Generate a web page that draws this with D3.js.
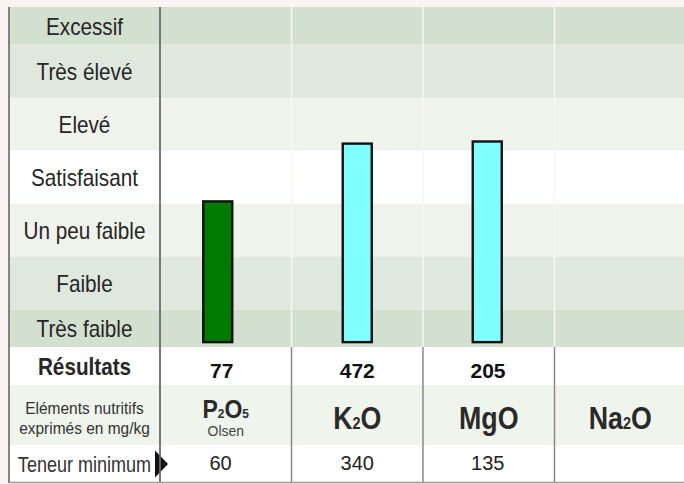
<!DOCTYPE html>
<html><head><meta charset="utf-8">
<script src="https://cdn.jsdelivr.net/npm/d3@7"></script>
<style>html,body{margin:0;padding:0;background:#f9f4f1;} svg{display:block;font-family:"Liberation Sans",Arial,sans-serif;}</style>
</head><body><svg id="chart" width="684" height="484"></svg>
<script>
// ---- data ----
const levels = ["Très faible","Faible","Un peu faible","Satisfaisant","Elevé","Très élevé","Excessif"];
const elements = ["P2O5","K2O","MgO","Na2O"];
const barLevels = [3.04, 4.13, 4.17, null];
const barBase = 0.13;
const results = ["77","472","205",""];
const minimums = ["60","340","135",""];
const notes = ["Olsen","","",""];
const rowLabels = ["Résultats","Eléments nutritifs|exprimés en mg/kg","Teneur minimum"];

// ---- styles ----
const bandColors = ["#d3dfcf","#dfe8dd","#f0f3ec","#ffffff","#f0f3ec","#dfe8dd","#d3dfcf"];
const barColors = ["#007a00","#80ffff","#80ffff","#80ffff"];
const textColor = "#262626";

// ---- layout ----
const L = 9, LR = 160, R = 686, T = 7, CB = 347;
const rowH = [38, 60, 38];
const innerH = 53, edgeH = (CB - T - 5 * innerH) / 2;
const colNudge = [-8, 0, -1.5, 0];   // small horizontal nudge of bars within their columns
const bounds = [CB];
for (let i = 0; i < 7; i++) bounds.push(bounds[i] - (i === 0 || i === 6 ? edgeH : innerH));

const svg = d3.select("#chart");
const y = d3.scaleLinear().domain(d3.range(8)).range(bounds);
const x = d3.scaleBand().domain(elements).range([LR, R]);
const bw = x.bandwidth();

function txt(g, px, py, str, size, sx, weight, color) {
  return g.append("text")
    .attr("transform", `translate(${px},${py}) scale(${sx},1)`)
    .attr("text-anchor", "middle")
    .attr("font-size", size)
    .attr("font-weight", weight || "normal")
    .attr("fill", color || textColor)
    .text(str);
}

// bands
svg.append("g").selectAll("rect").data(levels).join("rect")
  .attr("x", L).attr("width", R - L)
  .attr("y", (d, i) => y(i + 1)).attr("height", (d, i) => y(i) - y(i + 1))
  .attr("fill", (d, i) => bandColors[i]);

// table rows
const rowTops = [CB, CB + rowH[0], CB + rowH[0] + rowH[1]];
const rowFills = ["#ffffff", "#eff5ec", "#ffffff"];
svg.append("g").selectAll("rect").data(rowTops).join("rect")
  .attr("x", L).attr("width", R - L)
  .attr("y", d => d).attr("height", (d, i) => rowH[i])
  .attr("fill", (d, i) => rowFills[i]);
const B = rowTops[2] + rowH[2];

// column dividers in band area (faint)
svg.append("g").selectAll("line").data(elements.slice(1)).join("line")
  .attr("x1", d => x(d)).attr("x2", d => x(d))
  .attr("y1", T).attr("y2", CB)
  .attr("stroke", "#f6f7f3").attr("stroke-width", 1.5);
// column dividers in table
svg.append("g").selectAll("line").data(elements.slice(1)).join("line")
  .attr("x1", d => x(d)).attr("x2", d => x(d))
  .attr("y1", CB).attr("y2", B)
  .attr("stroke", "#8a8a8a").attr("stroke-width", 1.5);

// level labels
const lg = svg.append("g");
levels.forEach((lab, i) => {
  const mid = (y(i) + y(i + 1)) / 2;
  txt(lg, (L + LR) / 2, mid + 8.8, lab, 23, 0.9);
});

// bars
const barData = elements.map((e, i) => ({e, i, v: barLevels[i]})).filter(d => d.v != null);
svg.append("g").selectAll("rect").data(barData).join("rect")
  .attr("x", d => x(d.e) + bw / 2 - 14.5 + colNudge[d.i])
  .attr("width", 29)
  .attr("y", d => y(d.v))
  .attr("height", d => y(barBase) - y(d.v))
  .attr("fill", d => barColors[d.i])
  .attr("stroke", "#111").attr("stroke-width", 2.4);

// row labels
const tg = svg.append("g");
txt(tg, (L + LR) / 2, 375, rowLabels[0], 23, 0.9, "bold");
const el = rowLabels[1].split("|");
txt(tg, (L + LR) / 2, 414, el[0], 17, 0.91, "normal", "#333");
txt(tg, (L + LR) / 2, 434, el[1], 17, 0.91, "normal", "#333");
txt(tg, (L + LR) / 2, 471.5, rowLabels[2], 22, 0.82, "normal", "#333");

// triangle marker
const triMid = rowTops[2] + rowH[2] / 2;
svg.append("path")
  .attr("d", d3.line()([[LR - 5, triMid - 13.5], [LR + 8, triMid], [LR - 5, triMid + 13.5]]) + "Z")
  .attr("fill", "#111");

// results, formulas, minimums
elements.forEach((e, i) => {
  const cx = x(e) + bw / 2;
  if (results[i]) txt(tg, cx + colNudge[i] / 2, 378, results[i], 21, 1, "bold", "#111");
  if (minimums[i]) txt(tg, cx + colNudge[i] * 0.65, 470, minimums[i], 20, 1, "normal", "#222");
  const small = notes[i] ? 13 : 17;
  const big = notes[i] ? 25 : 31.5;
  const sx = notes[i] ? 0.92 : 0.85;
  const by = notes[i] ? 418 : 429;
  const t = tg.append("text")
    .attr("transform", `translate(${cx},${by}) scale(${sx},1)`)
    .attr("text-anchor", "middle").attr("font-weight", "bold").attr("fill", "#2a2a2a");
  e.match(/[A-Za-z]+|\d+/g).forEach(part => {
    t.append("tspan").attr("font-size", /\d/.test(part) ? small : big).text(part);
  });
  if (notes[i]) txt(tg, cx, 436, notes[i], 15, 0.93, "normal", "#444");
});

// borders
svg.append("line").attr("x1", L).attr("x2", L).attr("y1", T).attr("y2", B)
  .attr("stroke", "#777").attr("stroke-width", 1.8);
svg.append("line").attr("x1", LR).attr("x2", LR).attr("y1", T).attr("y2", B)
  .attr("stroke", "#6a6a6a").attr("stroke-width", 1.8);
svg.append("line").attr("x1", L).attr("x2", R).attr("y1", B - 0.5).attr("y2", B - 0.5)
  .attr("stroke", "#999").attr("stroke-width", 1.5);
</script></body></html>
